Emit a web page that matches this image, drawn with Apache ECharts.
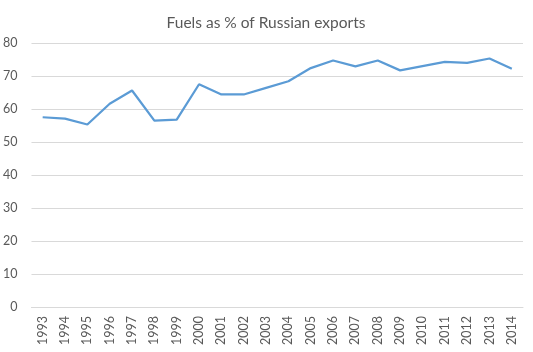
<!DOCTYPE html>
<html>
<head>
<meta charset="utf-8">
<script src="https://cdn.jsdelivr.net/npm/echarts@6/dist/echarts.min.js"></script>
<style>
  html, body { margin: 0; padding: 0; background: #fff; }
  #chart { width: 533px; height: 352px; }
</style>
</head>
<body>
<div id="chart"></div>
<script>
// data
const years = ['1993', '1994', '1995', '1996', '1997', '1998', '1999', '2000', '2001', '2002', '2003',
  '2004', '2005', '2006', '2007', '2008', '2009', '2010', '2011', '2012', '2013', '2014'];
const fuelShare = [57.5, 57.1, 55.3, 61.6, 65.6, 56.5, 56.8, 67.5, 64.4, 64.4, 66.4,
  68.4, 72.4, 74.7, 72.9, 74.7, 71.7, 73.0, 74.3, 74.0, 75.3, 72.2];
const yTicks = { min: 0, max: 80, interval: 10 };

const textColor = '#595959';
const font = 'Lato';

const chart = echarts.init(document.getElementById('chart'), null, { renderer: 'canvas' });
chart.setOption({
  animation: false,
  title: {
    text: 'Fuels as % of Russian exports',
    left: 261,
    textAlign: 'center',
    top: 10,
    textStyle: { color: textColor, fontFamily: font, fontSize: 15.5, fontWeight: 'normal' }
  },
  grid: { left: 31, right: 10, top: 43, bottom: 45 },
  xAxis: {
    type: 'category',
    data: years,
    boundaryGap: true,
    axisLine: { lineStyle: { color: '#d9d9d9', width: 1 } },
    axisTick: { show: false },
    axisLabel: {
      rotate: 90,
      interval: 0,
      margin: 9,
      color: textColor,
      fontFamily: font,
      fontSize: 12.5
    }
  },
  yAxis: {
    type: 'value',
    min: yTicks.min,
    max: yTicks.max,
    interval: yTicks.interval,
    axisLine: { show: false },
    axisTick: { show: false },
    splitLine: { lineStyle: { color: '#d9d9d9', width: 1 } },
    axisLabel: { color: textColor, fontFamily: font, fontSize: 12.5, margin: 14 }
  },
  series: [
    {
      name: 'Fuels',
      type: 'line',
      data: fuelShare,
      showSymbol: false,
      lineStyle: { color: '#5b9bd5', width: 2.25 },
      itemStyle: { color: '#5b9bd5' }
    }
  ]
});
</script>
</body>
</html>
